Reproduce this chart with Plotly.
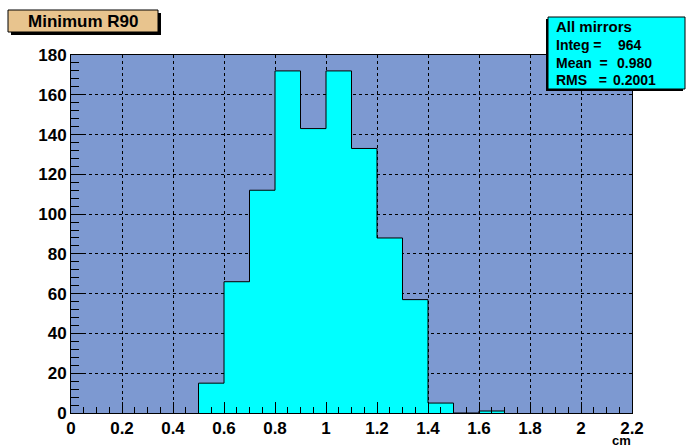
import plotly.graph_objects as go

bin_edges_lo = [0.5, 0.6, 0.7, 0.8, 0.9, 1.0, 1.1, 1.2, 1.3, 1.4, 1.5, 1.6]
counts = [15, 66, 112, 172, 143, 172, 133, 88, 57, 5, 0, 1]
bin_width = 0.1
x_ticks = [0, 0.2, 0.4, 0.6, 0.8, 1.0, 1.2, 1.4, 1.6, 1.8, 2.0, 2.2]
x_tick_labels = ["0", "0.2", "0.4", "0.6", "0.8", "1", "1.2", "1.4", "1.6", "1.8", "2", "2.2"]
y_ticks = [0, 20, 40, 60, 80, 100, 120, 140, 160, 180]
title_text = "Minimum R90"
stats_labels = ["Integ =", "Mean  =", "RMS   ="]
stats_values = ["964", "0.980", "0.2001"]

W, H = 686, 447
L, R, T, B = 71, 54, 55, 34
pw, ph = W - L - R, H - T - B

def px(x):
    return (x - L) / pw

def py(y):
    return (H - B - y) / ph

centers = [lo + bin_width / 2 for lo in bin_edges_lo]

# step outline
sx, sy = [bin_edges_lo[0]], [0]
for lo, c in zip(bin_edges_lo, counts):
    sx += [lo, lo + bin_width]
    sy += [c, c]
sx.append(bin_edges_lo[-1] + bin_width)
sy.append(0)

fig = go.Figure()
fig.add_trace(go.Bar(x=centers, y=counts, width=bin_width,
                     marker=dict(color="#00FFFF", line=dict(width=0)),
                     hoverinfo="skip"))
fig.add_trace(go.Scatter(x=sx, y=sy, mode="lines",
                         line=dict(color="black", width=1), hoverinfo="skip"))

font = dict(family="Liberation Sans", size=17, color="black", weight="bold")

fig.update_layout(
    width=W, height=H,
    margin=dict(l=L, r=R, t=T, b=B, autoexpand=False),
    paper_bgcolor="white",
    plot_bgcolor="#7D99D1",
    showlegend=False,
    bargap=0,
    xaxis=dict(range=[0, 2.2], tickvals=x_ticks, ticktext=x_tick_labels,
               ticks="inside", ticklen=11, tickcolor="black",
               minor=dict(dtick=0.05, ticks="inside", ticklen=6, tickcolor="black", showgrid=False),
               showgrid=True, gridcolor="black", griddash="dot", gridwidth=1,
               showline=True, linecolor="black", linewidth=1, mirror=True,
               zeroline=False, tickfont=font, ticklabelstandoff=0),
    yaxis=dict(range=[0, 180], tickvals=y_ticks,
               ticks="inside", ticklen=14, tickcolor="black",
               minor=dict(dtick=4, ticks="inside", ticklen=8, tickcolor="black", showgrid=False),
               showgrid=True, gridcolor="black", griddash="dot", gridwidth=1,
               showline=True, linecolor="black", linewidth=1, mirror=True,
               zeroline=False, tickfont=font),
)

shapes = []
# title box with shadow
shapes.append(dict(type="rect", xref="paper", yref="paper",
                   x0=px(11), x1=px(161), y0=py(35), y1=py(13),
                   fillcolor="black", line=dict(width=0), layer="above"))
shapes.append(dict(type="rect", xref="paper", yref="paper",
                   x0=px(8), x1=px(158), y0=py(32), y1=py(10),
                   fillcolor="#E8C48E", line=dict(color="black", width=1), layer="above"))
# stats box with shadow
shapes.append(dict(type="rect", xref="paper", yref="paper",
                   x0=px(546), x1=px(683), y0=py(91), y1=py(19),
                   fillcolor="black", line=dict(width=0), layer="above"))
shapes.append(dict(type="rect", xref="paper", yref="paper",
                   x0=px(548), x1=px(685), y0=py(89), y1=py(17),
                   fillcolor="#00FFFF", line=dict(color="black", width=1), layer="above"))
fig.update_layout(shapes=shapes)

ann = []
ann.append(dict(text=title_text, xref="paper", yref="paper", x=px(83), y=py(21),
                xanchor="center", yanchor="middle", showarrow=False,
                font=dict(family="Liberation Sans", size=17, color="black", weight="bold")))
sfont = dict(family="Liberation Sans", size=14, color="black", weight="bold")
ann.append(dict(text="All mirrors", xref="paper", yref="paper", x=px(554), y=py(27),
                xanchor="left", yanchor="middle", showarrow=False,
                font=dict(family="Liberation Sans", size=15, color="black", weight="bold")))
rows_y = [45, 63, 80]
val_right = [644, 654, 658]
for lab, val, yy, vr in zip(stats_labels, stats_values, rows_y, val_right):
    ann.append(dict(text=lab.replace(" ", "&nbsp;"), xref="paper", yref="paper", x=px(554), y=py(yy),
                    xanchor="left", yanchor="middle", showarrow=False, font=sfont))
    ann.append(dict(text=val, xref="paper", yref="paper", x=px(vr), y=py(yy),
                    xanchor="right", yanchor="middle", showarrow=False, font=sfont))
ann.append(dict(text="cm", xref="paper", yref="paper", x=px(621), y=py(440),
                xanchor="center", yanchor="middle", showarrow=False,
                font=dict(family="Liberation Sans", size=13, color="black", weight="bold")))
fig.update_layout(annotations=ann)

fig.write_html("out.html", config={"displayModeBar": False},
               post_script="document.body.style.margin='0';document.body.style.overflow='hidden';")
